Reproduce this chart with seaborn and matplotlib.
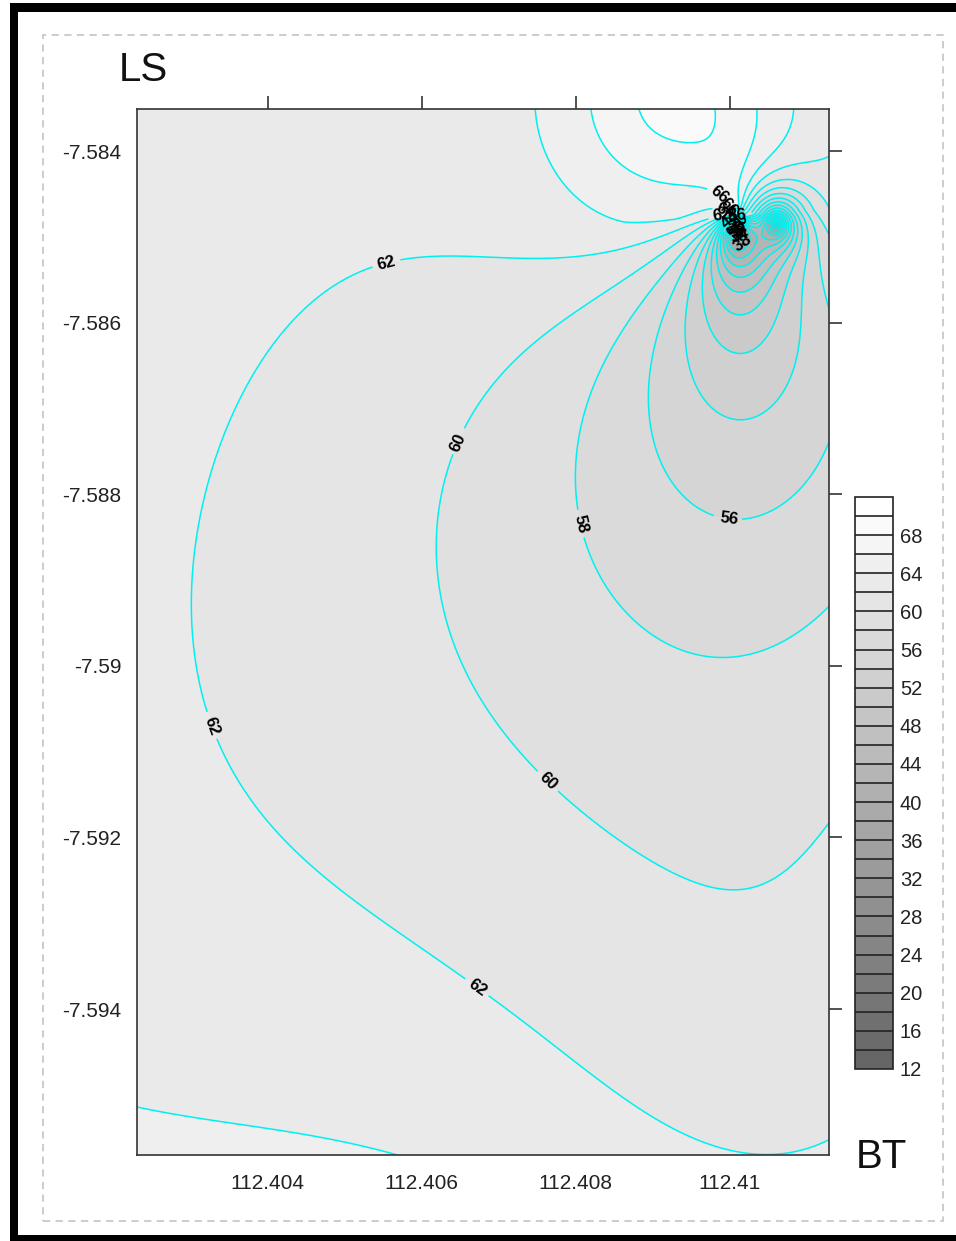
import numpy as np
import matplotlib
matplotlib.use("Agg")
import matplotlib.pyplot as plt
from matplotlib.patches import Rectangle
import seaborn as sns

sns.set_theme(style="white")
plt.rcParams['font.family'] = ['Liberation Sans', 'DejaVu Sans']

# ---------------- data ----------------
lon_min, lon_max = 112.40230, 112.41129
lat_min, lat_max = -7.59570, -7.58351

x_ticks = [112.404, 112.406, 112.408, 112.410]
x_tick_labels = ["112.404", "112.406", "112.408", "112.41"]
y_ticks = [-7.584, -7.586, -7.588, -7.590, -7.592, -7.594]
y_tick_labels = ["-7.584", "-7.586", "-7.588", "-7.59", "-7.592", "-7.594"]

levels = list(range(12, 73, 2))
cbar_ticks = list(range(12, 69, 4))

# contour traces (lon, lat) read along each labelled isoline
lon_68 = [112.40855, 112.40918, 112.40961, 112.40978]
lat_68 = [-7.58352, -7.58390, -7.58379, -7.58352]
lon_66 = [112.40721, 112.40788, 112.40883, 112.40978, 112.40994]
lat_66 = [-7.58352, -7.58399, -7.58431, -7.58437, -7.58379]
lon_64 = [112.40575, 112.40623, 112.40714, 112.40799, 112.40896, 112.40961,
          112.40230, 112.40312, 112.40377, 112.40416, 112.40435]
lat_64 = [-7.58352, -7.58407, -7.58454, -7.58469, -7.58465, -7.58461,
          -7.59512, -7.59512, -7.59524, -7.59547, -7.59568]
lon_62 = [112.40935, 112.40870, 112.40779, 112.40675, 112.40597, 112.40556,
          112.40506, 112.40468, 112.40429, 112.40377, 112.40312, 112.40273,
          112.40275, 112.40305, 112.40340, 112.40416, 112.40506, 112.40597,
          112.40668, 112.40766, 112.40870, 112.40974]
lat_62 = [-7.58484, -7.58510, -7.58527, -7.58541, -7.58548, -7.58539,
          -7.58515, -7.58490, -7.58515, -7.58585, -7.58690, -7.58807,
          -7.58923, -7.59017, -7.59066, -7.59145, -7.59226, -7.59314,
          -7.59381, -7.59459, -7.59524, -7.59568]
lon_60 = [112.40961, 112.40883, 112.40779, 112.40688, 112.40640, 112.40613,
          112.40617, 112.40649, 112.40727, 112.40774, 112.40857, 112.40961,
          112.41065, 112.41126]
lat_60 = [-7.58492, -7.58527, -7.58585, -7.58667, -7.58737, -7.58830,
          -7.58923, -7.59017, -7.59092, -7.59125, -7.59168, -7.59197,
          -7.59189, -7.59174]
lon_58 = [112.40961, 112.40883, 112.40818, 112.40792, 112.40799, 112.40844,
          112.40909, 112.40987, 112.41078, 112.41126]
lat_58 = [-7.58498, -7.58562, -7.58644, -7.58737, -7.58836, -7.58923,
          -7.58952, -7.58964, -7.58945, -7.58888]
lon_56 = [112.40968, 112.40909, 112.40883, 112.40893, 112.40935, 112.41001,
          112.41078, 112.41126]
lat_56 = [-7.58510, -7.58597, -7.58679, -7.58737, -7.58795, -7.58813,
          -7.58795, -7.58714]
lon_54 = [112.41017, 112.40968, 112.41126]
lat_54 = [-7.58725, -7.58702, -7.58661]
lon_52 = [112.41013]
lat_52 = [-7.58667]
lon_50 = [112.41039]
lat_50 = [-7.58632]

# shading read at open spots of the map (lon, lat, value)
lon_fill = [112.40247, 112.40230, 112.40230, 112.40230, 112.40230, 112.40701,
            112.41126, 112.41126, 112.41126, 112.41126, 112.40442, 112.40442,
            112.40831, 112.40987, 112.40442, 112.40597, 112.40312, 112.40961,
            112.40571, 112.40766, 112.41065, 112.41126]
lat_fill = [-7.58399, -7.58690, -7.59156, -7.59390, -7.59564, -7.59564,
            -7.59564, -7.59390, -7.59040, -7.58807, -7.58923, -7.58690,
            -7.59040, -7.58877, -7.58399, -7.58469, -7.58515, -7.59390,
            -7.59506, -7.59273, -7.59480, -7.59260]
val_fill = [63.0, 62.7, 63.3, 63.7, 64.5, 62.8,
            61.4, 61.0, 59.0, 57.0, 61.0, 61.3,
            59.0, 57.0, 63.0, 63.0, 62.6, 61.3,
            62.8, 61.0, 61.3, 60.8]

# singular points of the surface (steep high/low pair in the NE corner)
pole_lon, pole_lat = 112.41007, -7.58475
low_lon, low_lat = 112.41061, -7.58484
low_depth, low_scale_m = 30.0, 28.0
crest_lon, crest_lat, crest_scale_m = 112.40917, -7.58337, 170.0
basin_lon, basin_lat, basin_scale_m = 112.41195, -7.59623, 330.0
high_side_damping = 0.2
ridge = 0.01

# label anchor points (lon, lat)
label_pts = [(112.40556, -7.58539), (112.40340, -7.59066), (112.40668, -7.59381),
             (112.40640, -7.58737), (112.40774, -7.59125), (112.40799, -7.58836),
             (112.41001, -7.58813), (112.40981, -7.58457)]
blob_pts = [(112.40994, -7.58469), (112.41000, -7.58480), (112.41007, -7.58490),
            (112.41013, -7.58499), (112.40997, -7.58463), (112.41010, -7.58475),
            (112.41016, -7.58507), (112.40990, -7.58475), (112.41004, -7.58495),
            (112.41010, -7.58485), (112.41014, -7.58492)]

# ---------------- surface model ----------------
def meters(lon, lat, lon0, lat0):
    return (lon - lon0) * 110360.0, (lat - lat0) * 110574.0

def low_term(lon, lat):
    X, Y = meters(lon, lat, low_lon, low_lat)
    return -low_depth * np.exp(-np.sqrt(X**2 + Y**2) / low_scale_m)

def smooth_basis(lon, lat):
    xn = (lon - 112.4068) / 0.0045
    yn = (lat + 7.5896) / 0.0061
    Xc, Yc = meters(lon, lat, crest_lon, crest_lat)
    crest = 1.0 / (1.0 + (Xc**2 + Yc**2) / crest_scale_m**2)
    Xb, Yb = meters(lon, lat, basin_lon, basin_lat)
    basin = np.exp(-(Xb**2 + Yb**2) / (2.0 * basin_scale_m**2))
    one = np.ones_like(xn)
    return np.stack([one, xn, yn, xn**2, xn*yn, yn**2, crest, basin], axis=-1)

def pole_term(lon, lat, theta, a300, p, aniso):
    X, Y = meters(lon, lat, pole_lon, pole_lat)
    X = X * aniso
    r = np.sqrt(X**2 + Y**2 + 16.0)
    dr = np.sin(theta) * X - np.cos(theta) * Y
    d = -a300 * (dr / r) * (r / 300.0) ** (1.0 - p)
    return np.where(d < 0, d, high_side_damping * d)

traces = [(68, lon_68, lat_68), (66, lon_66, lat_66), (64, lon_64, lat_64),
          (62, lon_62, lat_62), (60, lon_60, lat_60), (58, lon_58, lat_58),
          (56, lon_56, lat_56), (54, lon_54, lat_54), (52, lon_52, lat_52),
          (50, lon_50, lat_50)]
weight_of_level = {68: 1.5, 66: 1.5, 64: 1.5, 62: 2.5, 60: 2.5, 58: 2.5,
                   56: 2.5, 54: 2.0, 52: 2.0, 50: 2.0}
pl, pa, pv = list(lon_fill), list(lat_fill), list(val_fill)
pw = [2.5] * len(lon_fill)
for lev, lo, la in traces:
    pl += lo; pa += la; pv += [lev] * len(lo)
    pw += [weight_of_level[lev]] * len(lo)
pl, pa, pv, pw = map(lambda a: np.array(a, float), (pl, pa, pv, pw))
target = pv - low_term(pl, pa)
S = smooth_basis(pl, pa)
nb = S.shape[1]
reg = np.zeros((5, nb))
reg[np.arange(5), np.arange(1, 6)] = np.sqrt(ridge)
SA = np.vstack([S * pw[:, None], reg])
zeros = np.zeros(5)

best = None
for theta in np.radians(np.arange(-5, 31, 2.5)):
    for a300 in np.arange(3.0, 12.01, 0.25):
        for p in (1.5, 1.6, 1.7, 1.8, 1.9, 2.0):
            for aniso in (1.0, 1.15, 1.3):
                rhs = target - pole_term(pl, pa, theta, a300, p, aniso)
                c, *_ = np.linalg.lstsq(SA, np.concatenate([rhs * pw, zeros]),
                                        rcond=None)
                err = np.sum((pw * (S @ c - rhs))**2)
                if best is None or err < best[0]:
                    best = (err, theta, a300, p, aniso, c)
_, theta_b, a_b, p_b, aniso_b, c_b = best

glon = np.linspace(lon_min, lon_max, 520)
glat = np.linspace(lat_min, lat_max, 760)
LON, LAT = np.meshgrid(glon, glat)
V = (smooth_basis(LON, LAT) @ c_b + pole_term(LON, LAT, theta_b, a_b, p_b, aniso_b)
     + low_term(LON, LAT))
V = np.clip(V, 12.05, 71.95)

# ---------------- figure ----------------
fig = plt.figure(figsize=(9.56, 12.41), dpi=100)
fig.patch.set_facecolor("white")

band_colors = sns.blend_palette(["#666666", "#ffffff"], n_colors=len(levels) - 1)

ax = fig.add_axes([0.1433, 0.0693, 0.7239, 0.8429])
cf = ax.contourf(LON, LAT, V, levels=levels, colors=band_colors)
cs = ax.contour(LON, LAT, V, levels=levels, colors="#00f0f0", linewidths=1.1)
ax.clabel(cs, inline=True, fmt="%d", fontsize=12, colors="black",
          manual=label_pts + blob_pts)
for t in cs.labelTexts:
    t.set_fontweight("bold")

ax.set_xlim(lon_min, lon_max)
ax.set_ylim(lat_min, lat_max)
ax.set_xticks(x_ticks)
ax.set_xticklabels(x_tick_labels)
ax.set_yticks(y_ticks)
ax.set_yticklabels(y_tick_labels)
ax.tick_params(axis="both", direction="out", length=9.4, width=1.1,
               top=True, right=True, labeltop=False, labelright=False,
               labelsize=15, colors="#222222", pad=2)
ax.tick_params(axis="x", pad=4)
for s in ax.spines.values():
    s.set_color("#333333")
    s.set_linewidth(1.2)

cax = fig.add_axes([0.8944, 0.1386, 0.0397, 0.4609])
cb = fig.colorbar(cf, cax=cax, ticks=cbar_ticks, drawedges=True)
cb.outline.set_edgecolor("#222222")
cb.outline.set_linewidth(1.2)
cb.dividers.set_color("#222222")
cb.dividers.set_linewidth(1.2)
cax.tick_params(length=0, labelsize=14.5, pad=5, colors="#222222")

fig.text(0.1496, 0.9436, "LS", fontsize=29, ha="center", va="center", color="#111111")
fig.text(0.9215, 0.0677, "BT", fontsize=29, ha="center", va="center", color="#111111")

# page decoration: dashed frame and dark screenshot border
fig.patches.append(Rectangle((0.045, 0.0161), 0.9414, 0.9557, fill=False,
                             ec="#c8c8c8", lw=1.3, ls=(0, (4, 3)),
                             transform=fig.transFigure, figure=fig))
for (x0, y0, w, h) in [(0.0105, 0.0, 0.0084, 0.9976), (0.0105, 0.9903, 0.9895, 0.0073),
                       (0.0105, 0.0, 0.9895, 0.0045)]:
    fig.patches.append(Rectangle((x0, y0), w, h, fc="black", ec="none",
                                 transform=fig.transFigure, figure=fig))

fig.savefig("out.png", dpi=100)
